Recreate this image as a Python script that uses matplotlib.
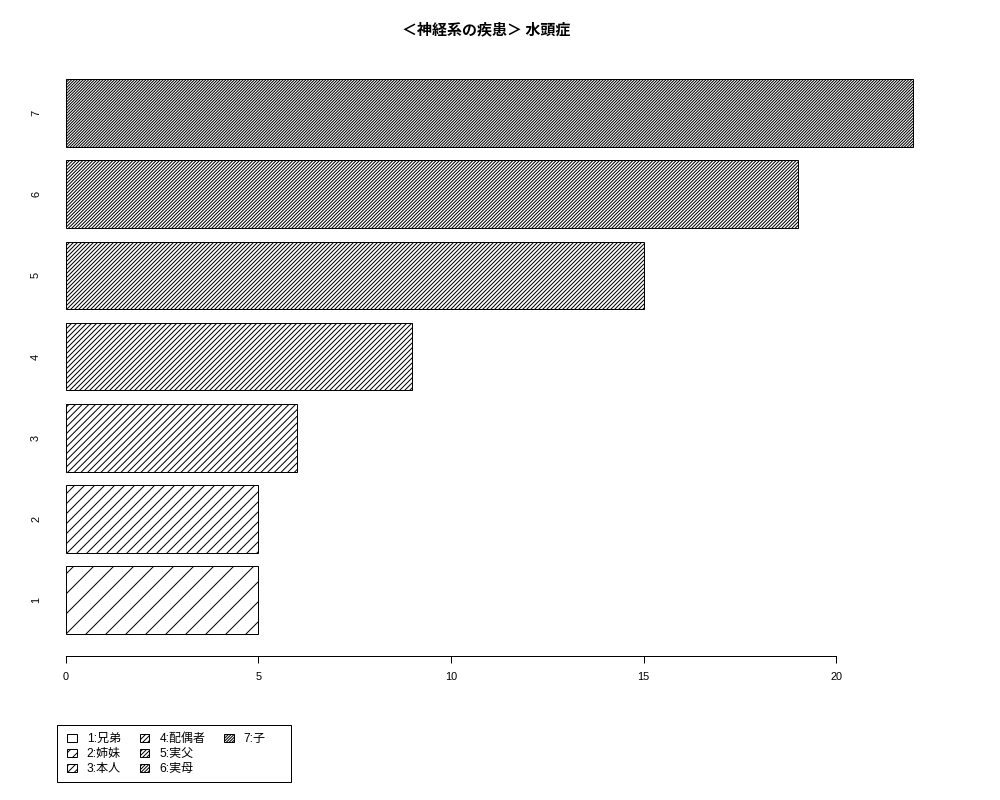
import matplotlib
matplotlib.use("Agg")
from matplotlib import pyplot as plt
from matplotlib.patches import Patch, Rectangle

# data
bar_labels = ['1', '2', '3', '4', '5', '6', '7']
values = [5, 5, 6, 9, 15, 19, 22]
legend_names = ['1:兄弟', '2:姉妹', '3:本人', '4:配偶者', '5:実父', '6:実母', '7:子']
title = '＜神経系の疾患＞ 水頭症'
xticks = [0, 5, 10, 15, 20]

DPI = 120
W, H = 1000, 800
px = 72.0 / DPI  # points per pixel

plt.rcParams['font.family'] = ['Liberation Sans', 'Noto Sans CJK JP', 'DejaVu Sans']
plt.rcParams['hatch.linewidth'] = 0.6
plt.rcParams['hatch.color'] = 'black'

fig = plt.figure(figsize=(W / DPI, H / DPI), dpi=DPI)
ax = fig.add_axes([32 / W, 1 - 656 / H, (947 - 32) / W, (656 - 57) / H])

# denser hatching for each next bar, like R's density
hatches = ['/' * (2 * (i + 1)) for i in range(len(values))]
ypos = [0.7 + 1.2 * i for i in range(len(values))]
bars = ax.barh(ypos, values, height=1.0, color='white', edgecolor='black',
               linewidth=0.6)
for b, h in zip(bars, hatches):
    b.set_hatch(h)

ax.set_xlim(-0.88, 22.88)
ax.set_ylim(-0.125, 8.728)

for s in ['top', 'right', 'left']:
    ax.spines[s].set_visible(False)
ax.spines['bottom'].set_bounds(0, 20)
ax.spines['bottom'].set_linewidth(0.6)

ax.set_xticks(xticks)
ax.set_xticklabels([str(t) for t in xticks])
ax.tick_params(axis='x', length=7 * px, width=0.6, pad=9 * px, labelsize=11 * px)
ax.set_yticks(ypos)
ax.set_yticklabels(bar_labels, rotation=90, va='center', ha='center')
ax.tick_params(axis='y', length=0, pad=-4 * px, labelsize=11 * px)

fig.text(486.5 / W, 1 - 29 / H, title, ha='center', va='center',
         fontsize=15 * px, fontweight='bold',
         family=['Noto Sans CJK JP', 'DejaVu Sans'])

# R fills the legend by column: 3, 3, 1 -> pad with blanks
handles = [Patch(facecolor='white', edgecolor='black', hatch=h, linewidth=0.6)
           for h in hatches]
labels = list(legend_names)
for _ in range(2):
    handles.append(Patch(visible=False))
    labels.append('')
leg = fig.legend(handles, labels, loc='upper left',
                 bbox_to_anchor=(67 / W, 1 - 733 / H), borderaxespad=0,
                 ncol=3, fontsize=12 * px, frameon=False,
                 handlelength=0.8, handleheight=0.7,
                 handletextpad=0.85, columnspacing=1.55, labelspacing=0.25,
                 borderpad=0)

# R-style legend box, wider than the entries
fig.patches.append(Rectangle((57 / W, 1 - 782 / H), (291 - 57) / W,
                             (782 - 725) / H, transform=fig.transFigure,
                             fill=False, edgecolor='black', linewidth=0.6))

fig.savefig('out.png', dpi=DPI)
